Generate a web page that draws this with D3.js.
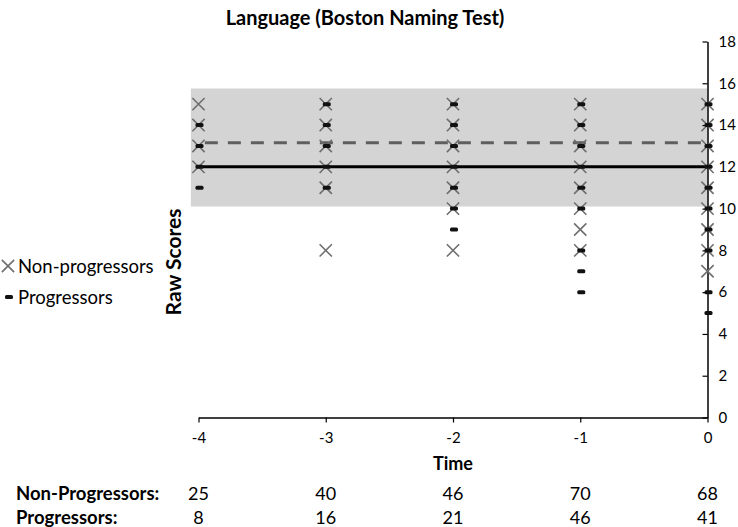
<!DOCTYPE html>
<html>
<head>
<meta charset="utf-8">
<script src="https://cdn.jsdelivr.net/npm/d3@7"></script>
<style>
  body { margin: 0; background: #fff; }
  svg text { font-family: Lato, "Open Sans", sans-serif; fill: #000; }
</style>
</head>
<body>
<div id="chart"></div>
<script>
// time points (years relative to conversion)
const times = [-4, -3, -2, -1, 0];

// raw scores seen at each time point
const nonProgScores = [
    [15, 14, 13, 12],
    [15, 14, 13, 12, 11, 8],
    [15, 14, 13, 12, 11, 10, 8],
    [15, 14, 13, 12, 11, 10, 9, 8],
    [15, 14, 13, 12, 11, 10, 9, 8, 7]
];
const progScores = [
    [14, 13, 12, 11],
    [15, 14, 13, 12, 11],
    [15, 14, 13, 12, 11, 10, 9],
    [15, 14, 13, 12, 11, 10, 8, 7, 6],
    [15, 14, 13, 12, 11, 10, 9, 8, 6, 5]
];

// sample sizes under the axis
const nonProgN = [25, 40, 46, 70, 68];
const progN = [8, 16, 21, 46, 41];

// reference band and means
const normalBand = [10.1, 15.75];
const progMean = 12;
const nonProgMean = 13.15;

const yTicks = [0, 2, 4, 6, 8, 10, 12, 14, 16, 18];

const width = 738, height = 527;
const svg = d3.select("#chart").append("svg")
    .attr("width", width)
    .attr("height", height);

const x = d3.scaleLinear().domain([-4, 0]).range([198.5, 707.5]);
const y = d3.scaleLinear().domain([0, 18]).range([417.5, 41.5]);

// grey band
svg.append("rect")
    .attr("x", x(-4.06))
    .attr("y", y(normalBand[1]))
    .attr("width", x(0) - x(-4.06))
    .attr("height", y(normalBand[0]) - y(normalBand[1]))
    .attr("fill", "#d4d4d4");

// axes
const xAxis = svg.append("g")
    .attr("transform", `translate(0,${y(0)})`)
    .call(d3.axisBottom(x).tickValues(times).tickSize(5).tickSizeOuter(0).tickFormat(d => String(d)));
xAxis.select(".domain").attr("stroke", "#000").attr("stroke-width", 1.5);
xAxis.selectAll(".tick line").attr("stroke", "#000").attr("stroke-width", 1.2);
xAxis.selectAll("text").attr("font-size", 15).attr("dy", "1.15em");

const yAxis = svg.append("g")
    .attr("transform", `translate(${x(0)},0)`)
    .call(d3.axisRight(y).tickValues(yTicks).tickSize(-5).tickSizeOuter(0));
yAxis.select(".domain").attr("stroke", "#000").attr("stroke-width", 1.5);
yAxis.selectAll(".tick line").attr("stroke", "#000").attr("stroke-width", 1.2);
yAxis.selectAll("text").attr("font-size", 15).attr("x", 11);

// mean lines
svg.append("line")
    .attr("x1", x(-4)).attr("x2", x(0))
    .attr("y1", y(progMean)).attr("y2", y(progMean))
    .attr("stroke", "#000").attr("stroke-width", 3);
svg.append("line")
    .attr("x1", x(-3.95)).attr("x2", x(0))
    .attr("y1", y(nonProgMean)).attr("y2", y(nonProgMean))
    .attr("stroke", "#5f5f5f").attr("stroke-width", 3)
    .attr("stroke-dasharray", "13,10");

// flatten points for drawing
const nonProgPts = [];
times.forEach((t, i) => nonProgScores[i].forEach(v => nonProgPts.push({ t, v })));
const progPts = [];
times.forEach((t, i) => progScores[i].forEach(v => progPts.push({ t, v })));

const cross = d3.symbol(d3.symbolTimes, 100);
svg.append("g").selectAll("path")
    .data(nonProgPts)
    .enter().append("path")
    .attr("d", cross)
    .attr("transform", d => `translate(${x(d.t)},${y(d.v)})`)
    .attr("fill", "none")
    .attr("stroke", "#6e6e6e")
    .attr("stroke-width", 1.6);

svg.append("g").selectAll("rect")
    .data(progPts)
    .enter().append("rect")
    .attr("x", d => x(d.t) - 3)
    .attr("y", d => y(d.v) - 2)
    .attr("width", 8)
    .attr("height", 4)
    .attr("rx", 1.5)
    .attr("fill", "#111");

// title and axis titles
svg.append("text")
    .attr("x", 365).attr("y", 25)
    .attr("text-anchor", "middle")
    .attr("font-size", 20).attr("font-weight", "bold")
    .text("Language (Boston Naming Test)");

svg.append("text")
    .attr("transform", "translate(181,262) rotate(-90)")
    .attr("text-anchor", "middle")
    .attr("font-size", 21).attr("font-weight", "bold")
    .text("Raw Scores");

svg.append("text")
    .attr("x", x(-2)).attr("y", 470)
    .attr("text-anchor", "middle")
    .attr("font-size", 18).attr("font-weight", "bold")
    .text("Time");

// legend
svg.append("path")
    .attr("d", cross)
    .attr("transform", "translate(8,266)")
    .attr("fill", "none").attr("stroke", "#6e6e6e").attr("stroke-width", 1.6);
svg.append("text").attr("x", 18).attr("y", 273).attr("font-size", 18.5).text("Non-progressors");
svg.append("rect")
    .attr("x", 5).attr("y", 295).attr("width", 8).attr("height", 4).attr("rx", 1.5)
    .attr("fill", "#111");
svg.append("text").attr("x", 18).attr("y", 304).attr("font-size", 18.5).text("Progressors");

// sample size table
svg.append("text").attr("x", 16).attr("y", 500)
    .attr("font-size", 18.5).attr("font-weight", "bold").text("Non-Progressors:");
svg.append("text").attr("x", 16).attr("y", 524)
    .attr("font-size", 18.5).attr("font-weight", "bold").text("Progressors:");

svg.append("g").selectAll("text")
    .data(nonProgN)
    .enter().append("text")
    .attr("x", (d, i) => x(times[i]))
    .attr("y", 500)
    .attr("text-anchor", "middle")
    .attr("font-size", 18)
    .text(d => d);

svg.append("g").selectAll("text")
    .data(progN)
    .enter().append("text")
    .attr("x", (d, i) => x(times[i]))
    .attr("y", 524)
    .attr("text-anchor", "middle")
    .attr("font-size", 18)
    .text(d => d);
</script>
</body>
</html>
